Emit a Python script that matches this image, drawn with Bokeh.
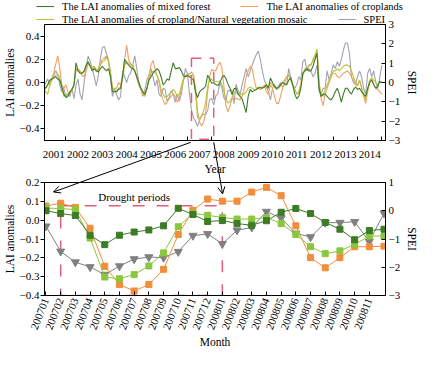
from bokeh.plotting import figure
from bokeh.layouts import column
from bokeh.models import (Range1d, LinearAxis, FixedTicker, CustomJSTickFormatter,
                          Legend, LegendItem, Arrow, OpenHead, Label)
from bokeh.embed import file_html
from bokeh.resources import INLINE

FONT = "Liberation Serif"
C_FOREST = "#3f7a2a"
C_CROP = "#f2a062"
C_MOSAIC = "#b8c43a"
C_SPEI = "#a2a2b2"
B_FOREST = "#3d7b26"
B_CROP = "#f28d3a"
B_MOSAIC = "#8cc63f"
B_SPEI = "#808080"
RED = "#e0607a"

# ---------------- data ----------------
months_0708 = ["200701", "200702", "200703", "200704", "200705", "200706",
               "200707", "200708", "200709", "200710", "200711", "200712",
               "200801", "200802", "200803", "200804", "200805", "200806",
               "200807", "200808", "200809", "200810", "200811", "200812"]

forest_0708 = [0.05, 0.035, 0.025, -0.08, -0.13, -0.08, -0.063, -0.052, -0.03, 0.063, 0.03, -0.007,
               -0.002, -0.018, -0.027, -0.003, 0.042, 0.062, 0.035, -0.012, -0.048, -0.104, -0.055, -0.048]
crop_0708 = [0.075, 0.09, 0.068, -0.043, -0.245, -0.342, -0.376, -0.342, -0.261, -0.076, 0.052, 0.112,
             0.101, 0.101, 0.149, 0.174, 0.13, -0.03, -0.199, -0.253, -0.199, -0.141, -0.141, -0.138]
mosaic_0708 = [0.064, 0.062, 0.056, -0.095, -0.302, -0.311, -0.289, -0.243, -0.174, -0.035, 0.036, 0.026,
               0.014, 0.006, 0.006, 0.014, -0.018, -0.076, -0.141, -0.178, -0.163, -0.129, -0.084, -0.084]
spei_0708 = [-0.55, -1.44, -1.82, -1.99, -2.26, -1.96, -1.71, -1.64, -1.66, -1.45, -0.88, -0.82,
             -1.17, -0.69, -0.59, -0.03, -0.26, -0.8, -0.93, -0.42, -0.42, -0.39, -1.09, -0.09]

forest_0106 = [
    -0.03, -0.05, -0.02, 0.02, 0.03, 0.04, 0.05, 0.03, 0.02, -0.04, -0.10, -0.13,
    -0.12, -0.08, -0.06, -0.02, 0.17, 0.10, 0.08, 0.08, 0.10, 0.15, 0.18, 0.14,
    0.10, 0.12, 0.10, 0.09, 0.12, 0.14, 0.12, 0.10, 0.12, 0.05, -0.08, -0.08,
    -0.08, -0.06, -0.05, 0.05, 0.20, 0.17, 0.15, 0.13, 0.12, 0.10, 0.05, 0.00,
    -0.05, -0.08, -0.10, -0.05, 0.02, 0.05, 0.08, 0.10, 0.12, 0.10, 0.05, -0.02,
    0.00, 0.03, 0.02, 0.10, 0.17, 0.12, 0.12, 0.13, 0.10, 0.06, 0.05, 0.06]
forest_0914 = [
    -0.10, -0.12, -0.14, -0.20, -0.26, -0.12, -0.06, -0.08, -0.07, -0.06, -0.05, -0.04,
    -0.05, -0.04, -0.02, -0.05, 0.04, 0.00, -0.03, -0.05, -0.04, -0.02, 0.00, -0.01,
    -0.02, 0.02, 0.04, -0.02, -0.10, -0.14, -0.12, -0.05, 0.08, 0.10, 0.12, 0.10,
    0.10, 0.14, 0.20, 0.25, -0.05, -0.12, -0.10, -0.10, -0.12, -0.14, -0.15, -0.12,
    -0.08, -0.05, -0.10, -0.17, -0.10, -0.05, -0.05, -0.08, -0.10, -0.06, -0.04, -0.06,
    -0.05, -0.08, -0.10, -0.12, -0.05, 0.00, 0.02, -0.02, -0.05, -0.03, 0.01, 0.00]

crop_0106 = [
    -0.03, -0.05, -0.02, 0.00, 0.03, 0.08, 0.16, 0.23, 0.12, -0.02, -0.05, -0.02,
    -0.08, -0.10, -0.06, -0.02, 0.10, 0.12, 0.10, 0.06, 0.05, 0.10, 0.16, 0.14,
    0.12, 0.13, 0.10, 0.12, 0.17, 0.20, 0.21, 0.23, 0.18, 0.08, -0.05, -0.05,
    -0.05, 0.00, -0.02, 0.05, 0.20, 0.32, 0.20, 0.16, 0.15, 0.10, 0.04, -0.02,
    -0.06, -0.10, -0.12, -0.05, 0.05, 0.15, 0.19, 0.12, 0.06, 0.00, -0.10, -0.15,
    -0.19, -0.17, -0.14, -0.12, -0.10, -0.12, -0.17, -0.14, -0.06, 0.02, 0.05, 0.07]
crop_0914 = [
    -0.14, -0.15, -0.12, -0.05, 0.05, 0.10, 0.14, 0.12, 0.02, -0.05, -0.04, -0.06,
    -0.05, -0.02, -0.08, -0.10, -0.02, -0.05, -0.12, -0.18, -0.18, -0.12, -0.05, 0.00,
    0.05, 0.07, 0.03, -0.03, -0.06, -0.10, -0.08, 0.00, 0.08, 0.10, 0.12, 0.15,
    0.16, 0.18, 0.22, 0.27, -0.02, -0.14, -0.20, -0.10, -0.05, 0.00, 0.05, 0.08,
    0.08, 0.05, 0.04, 0.06, 0.08, 0.09, 0.10, 0.08, 0.05, 0.02, -0.02, -0.03,
    0.02, -0.05, -0.12, -0.18, -0.08, 0.00, 0.03, -0.02, -0.05, -0.06, -0.08, -0.10]

mosaic_0106 = [
    -0.05, -0.08, -0.10, -0.03, 0.02, 0.04, 0.06, 0.07, 0.04, -0.05, -0.12, -0.10,
    -0.10, -0.08, -0.07, -0.02, 0.12, 0.10, 0.09, 0.08, 0.09, 0.14, 0.17, 0.14,
    0.13, 0.14, 0.11, 0.10, 0.15, 0.18, 0.19, 0.22, 0.19, 0.10, -0.05, -0.08,
    -0.07, -0.05, -0.04, 0.03, 0.15, 0.18, 0.17, 0.15, 0.14, 0.10, 0.05, -0.02,
    -0.05, -0.09, -0.11, -0.05, 0.02, 0.08, 0.10, 0.09, 0.06, 0.02, -0.06, -0.10,
    -0.13, -0.12, -0.10, -0.08, -0.06, -0.08, -0.12, -0.10, -0.03, 0.03, 0.06, 0.07]
mosaic_0914 = [
    -0.10, -0.11, -0.10, -0.10, -0.08, -0.05, -0.04, -0.05, -0.06, -0.06, -0.04, -0.05,
    -0.04, -0.03, -0.05, -0.03, 0.00, -0.02, -0.04, -0.06, -0.05, -0.03, 0.00, 0.02,
    0.05, 0.06, 0.02, -0.02, -0.06, -0.10, -0.09, -0.02, 0.06, 0.12, 0.12, 0.14,
    0.15, 0.20, 0.24, 0.29, 0.00, -0.10, -0.12, -0.06, -0.02, 0.02, 0.06, 0.10,
    0.10, 0.12, 0.10, 0.12, 0.14, 0.15, 0.15, 0.14, 0.10, 0.05, 0.00, -0.02,
    0.02, -0.04, -0.10, -0.15, -0.06, 0.02, 0.04, 0.02, 0.00, -0.02, 0.00, 0.00]

spei_0106 = [
    -0.3, 0.0, 0.18, -0.12, 0.12, 0.36, 0.6, 0.42, -0.12, -0.48, -0.3, -0.72,
    -0.6, -0.72, -0.3, -0.84, -0.12, 0.18, -0.6, -0.9, 0.0, 0.72, 1.38, 1.08,
    0.72, 0.3, -0.18, 0.36, 1.2, 1.8, 1.86, 1.5, 1.2, 0.3, -0.72, -0.3,
    -0.6, -0.9, -0.72, 0.6, 0.3, 0.0, 0.36, 0.48, 0.9, 1.38, 0.72, 0.0,
    -0.3, -0.72, -0.36, 0.12, 0.36, 0.72, 0.3, -0.18, 0.12, -0.6, -0.72, -0.3,
    -0.36, -0.96, -0.78, -0.42, -0.6, -1.02, -0.6, -0.96, -0.6, 0.12, 0.72, 0.48]
spei_0914 = [
    -0.42, -0.6, -0.12, 0.3, 0.72, 0.3, 0.6, 0.9, 1.2, 1.44, 1.62, 1.2,
    0.6, 0.12, -0.12, -0.48, -0.9, -0.3, -0.12, -0.36, -0.18, 0.0, -0.24, -0.12,
    -0.12, 0.72, 0.3, -0.12, -0.3, -0.12, 0.3, 0.12, 1.08, 1.2, 0.6, 0.72,
    0.6, 0.3, 0.48, 0.9, -0.48, -0.6, -0.3, -0.3, 0.6, 0.12, 0.48, 0.9,
    0.72, 1.08, 0.84, 1.2, 1.68, 2.04, 2.04, 1.5, 0.3, 0.0, -0.12, 0.3,
    0.6, 0.3, -0.3, -0.6, 0.48, 0.72, 0.3, 0.6, 0.0, -0.3, 0.3, 0.9]

forest_top = forest_0106 + forest_0708 + forest_0914
crop_top = crop_0106 + crop_0708 + crop_0914
mosaic_top = mosaic_0106 + mosaic_0708 + mosaic_0914
spei_top = spei_0106 + spei_0708 + spei_0914
x_top = [2001 + (k + 1) / 12 for k in range(len(forest_top))]
x_bot = list(range(len(months_0708)))

drought_start, drought_end = "200702", "200801"
i_start, i_end = months_0708.index(drought_start), months_0708.index(drought_end)

# ---------------- geometry ----------------
W = 421
L, R = 39, 31
FW = W - L - R
H1, T1, B1 = 177, 24, 34
H2, T2, B2 = 173, 5, 54
HT = H1 + H2
FH1 = H1 - T1 - B1
FH2 = H2 - T2 - B2
X1 = (2001.12, 2015.15)
Y1 = (-0.5, 0.5)
X2 = (-0.1, 23.1)
Y2 = (-0.4, 0.2)

def top_px(x, y):
    return (L + (x - X1[0]) / (X1[1] - X1[0]) * FW, T1 + (Y1[1] - y) / (Y1[1] - Y1[0]) * FH1)

def bot_px(x, y):
    return (L + (x - X2[0]) / (X2[1] - X2[0]) * FW, H1 + T2 + (Y2[1] - y) / (Y2[1] - Y2[0]) * FH2)

MINUS1 = CustomJSTickFormatter(code="var s = Math.abs(tick).toFixed(1); return (tick < -1e-9 ? '\u2212' : '') + s;")
MINUS0 = CustomJSTickFormatter(code="var s = Math.abs(Math.round(tick)).toString(); return (tick < -1e-9 ? '\u2212' : '') + s;")

def style_axis(ax):
    ax.major_label_text_font = FONT
    ax.major_label_text_font_size = "11px"
    ax.major_label_text_color = "black"
    ax.axis_label_text_font = FONT
    ax.axis_label_text_font_size = "11.5px"
    ax.axis_label_text_font_style = "normal"
    ax.axis_label_text_color = "black"
    ax.axis_line_color = "black"
    ax.major_tick_line_color = "black"
    ax.minor_tick_line_color = None

def style_fig(p):
    p.grid.visible = False
    p.outline_line_color = "black"
    p.outline_line_alpha = 1
    p.background_fill_color = "white"
    p.border_fill_color = "white"

# ---------------- top panel ----------------
p1 = figure(width=W, height=H1, x_range=Range1d(*X1), y_range=Range1d(*Y1),
            output_backend="svg", toolbar_location=None,
            min_border_left=L, min_border_right=R, min_border_top=T1, min_border_bottom=B1)
p1.extra_y_ranges = {"spei": Range1d(-3, 3)}
style_fig(p1)

p1.line(x_top, spei_top, y_range_name="spei", line_color=C_SPEI, line_width=1.1)
p1.line(x_top, crop_top, line_color=C_CROP, line_width=1.1)
p1.line(x_top, mosaic_top, line_color=C_MOSAIC, line_width=1.1)
p1.line(x_top, forest_top, line_color=C_FOREST, line_width=1.1)

box_l = x_top[72 + i_start]
box_r = x_top[72 + i_end]
p1.quad(left=[box_l], right=[box_r], bottom=[-0.49], top=[0.21], fill_alpha=0,
        line_color=RED, line_width=1.5, line_dash="10 8")

xa = p1.xaxis[0]
style_axis(xa)
xa.ticker = FixedTicker(ticks=[y + 0.5 for y in range(2001, 2015)], minor_ticks=list(range(2002, 2016)))
xa.formatter = CustomJSTickFormatter(code="return String(Math.floor(tick));")
xa.major_tick_line_color = None
xa.minor_tick_line_color = "black"
xa.minor_tick_in = 4
xa.minor_tick_out = 0
xa.major_label_standoff = 4
xa.axis_label = "Year"
xa.axis_label_standoff = 2

ya = p1.yaxis[0]
style_axis(ya)
ya.ticker = FixedTicker(ticks=[-0.4, -0.2, 0.0, 0.2, 0.4])
ya.formatter = MINUS1
ya.major_tick_out = 4
ya.major_tick_in = 0
ya.major_label_standoff = 1
ya.axis_label = "LAI anomalies"
ya.axis_label_standoff = 1

ra = LinearAxis(y_range_name="spei", axis_label="SPEI")
style_axis(ra)
ra.ticker = FixedTicker(ticks=[-3, -2, -1, 0, 1, 2, 3])
ra.formatter = MINUS0
ra.major_tick_in = 4
ra.major_tick_out = 0
ra.major_label_standoff = 3
ra.axis_label_standoff = 3
p1.add_layout(ra, "right")

# ---------------- bottom panel ----------------
p2 = figure(width=W, height=H2, x_range=Range1d(*X2), y_range=Range1d(*Y2),
            output_backend="svg", toolbar_location=None,
            min_border_left=L, min_border_right=R, min_border_top=T2, min_border_bottom=B2)
p2.extra_y_ranges = {"spei": Range1d(-3, 1)}
style_fig(p2)

p2.quad(left=[i_start], right=[i_end], bottom=[-0.4], top=[0.076], fill_alpha=0,
        line_color=RED, line_width=1.5, line_dash="12 12")

p2.line(x_bot, spei_0708, y_range_name="spei", line_color=B_SPEI, line_width=1)
p2.scatter(x_bot, spei_0708, y_range_name="spei", marker="inverted_triangle", size=8,
           fill_color=B_SPEI, line_color=B_SPEI)
p2.line(x_bot, crop_0708, line_color=B_CROP, line_width=1)
p2.scatter(x_bot, crop_0708, marker="square", size=6, fill_color=B_CROP, line_color=B_CROP)
p2.line(x_bot, mosaic_0708, line_color=B_MOSAIC, line_width=1)
p2.scatter(x_bot, mosaic_0708, marker="square", size=6, fill_color=B_MOSAIC, line_color=B_MOSAIC)
p2.line(x_bot, forest_0708, line_color=B_FOREST, line_width=1)
p2.scatter(x_bot, forest_0708, marker="square", size=6, fill_color=B_FOREST, line_color=B_FOREST)

p2.add_layout(Label(x=6.0, y=0.125, text="Drought periods", text_align="center",
                    text_baseline="middle", text_font=FONT, text_font_size="11px",
                    text_color="black"))

xb = p2.xaxis[0]
style_axis(xb)
xb.ticker = FixedTicker(ticks=list(range(len(months_0708) - 1)))
xb.formatter = CustomJSTickFormatter(args=dict(labels=months_0708),
                                     code="return labels[Math.round(tick)];")
xb.major_tick_in = 4
xb.major_tick_out = 0
xb.major_label_orientation = 1.2
xb.major_label_standoff = 3
xb.axis_label = "Month"
xb.axis_label_standoff = 1

yb = p2.yaxis[0]
style_axis(yb)
yb.ticker = FixedTicker(ticks=[-0.4, -0.3, -0.2, -0.1, 0.0, 0.1, 0.2])
yb.formatter = MINUS1
yb.major_tick_out = 4
yb.major_tick_in = 0
yb.major_label_standoff = 1
yb.axis_label = "LAI anomalies"
yb.axis_label_standoff = 1

rb = LinearAxis(y_range_name="spei", axis_label="SPEI")
style_axis(rb)
rb.ticker = FixedTicker(ticks=[-3, -2, -1, 0, 1])
rb.formatter = MINUS0
rb.major_tick_in = 4
rb.major_tick_out = 0
rb.major_label_standoff = 3
rb.axis_label_standoff = 3
p2.add_layout(rb, "right")

# ---------------- transparent overlay (separate root): legend rows + connecting arrows ----------------
p3 = figure(width=W, height=HT, x_range=Range1d(0, W), y_range=Range1d(HT, 0),
            x_axis_type=None, y_axis_type=None, output_backend="svg", toolbar_location=None,
            min_border=0, min_border_left=0, min_border_right=0, min_border_top=0,
            min_border_bottom=0, styles={"margin-top": f"-{HT}px"})
p3.outline_line_color = None
p3.background_fill_alpha = 0
p3.border_fill_alpha = 0
p3.grid.visible = False

# legend proxies: the same series, which fall far outside this overlay's pixel ranges
gf = p3.line(x_top, forest_top, line_color=C_FOREST, line_width=1.1)
gc = p3.line(x_top, crop_top, line_color=C_CROP, line_width=1.1)
gm = p3.line(x_top, mosaic_top, line_color=C_MOSAIC, line_width=1.1)
gs = p3.line(x_top, spei_top, line_color=C_SPEI, line_width=1.1)

def make_legend(items, loc):
    return Legend(items=items, orientation="horizontal", location=loc,
                  label_text_font=FONT, label_text_font_size="10.5px", label_text_color="black",
                  glyph_width=18, glyph_height=12, label_height=12, label_standoff=8,
                  spacing=30, padding=0, margin=0, border_line_color=None,
                  background_fill_alpha=0)

leg1 = make_legend([LegendItem(label="The LAI anomalies of mixed forest", renderers=[gf]),
                    LegendItem(label="The LAI anomalies of croplands", renderers=[gc])],
                   (L - 3, HT - 12))
leg2 = make_legend([LegendItem(label="The LAI anomalies of cropland/Natural vegetation mosaic", renderers=[gm]),
                    LegendItem(label="SPEI", renderers=[gs])],
                   (L - 3, HT - 25))
p3.add_layout(leg1, "center")
p3.add_layout(leg2, "center")

links = [((box_l, -0.49), (0.82, 0.15)), ((box_r, -0.49), (12.0, 0.14))]
for (tx, ty), (bx, by) in links:
    sx, sy = top_px(tx, ty)
    ex, ey = bot_px(bx, by)
    p3.add_layout(Arrow(end=OpenHead(size=7, line_width=1, line_color="black"),
                        x_start=sx, y_start=sy, x_end=ex, y_end=ey,
                        line_color="black", line_width=1))

layout = column(p1, p2, spacing=0)
open("out.html", "w").write(file_html([layout, p3], INLINE))
